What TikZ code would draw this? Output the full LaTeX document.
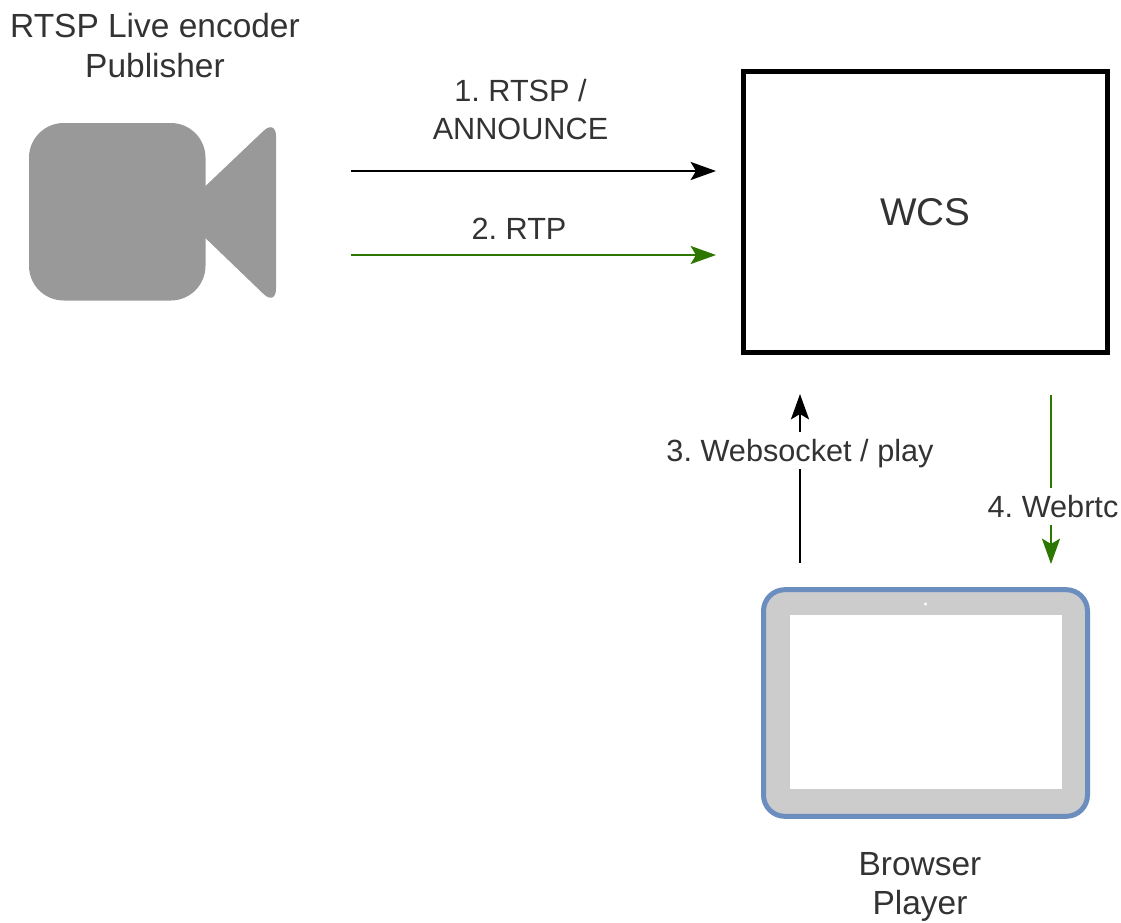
\documentclass[tikz,border=0pt]{standalone}
\usepackage{fontspec}
\setmainfont{Liberation Sans}
\usepackage{xcolor}
\usetikzlibrary{arrows.meta,positioning}
\definecolor{txtgray}{RGB}{51,51,51}
\definecolor{camgray}{RGB}{153,153,153}
\definecolor{padgray}{RGB}{204,204,204}
\definecolor{padblue}{RGB}{108,142,191}
\definecolor{rtpgreen}{RGB}{45,118,0}
\frenchspacing

\begin{document}
\begin{tikzpicture}[x=0.75pt,y=-0.75pt]
    \tikzstyle{lbl}=[align=center,inner sep=0pt,text=txtgray,font=\fontsize{25.1}{30.5}\selectfont] %
    \tikzstyle{msglbl}=[lbl,font=\fontsize{23}{28.5}\selectfont] %
    \tikzstyle{edgelbl}=[msglbl,fill=white,inner ysep=2.875pt,text height=19pt,text depth=3pt] %
    \tikzstyle{server}=[rectangle,draw=black,line width=3.75pt,fill=white,%
    minimum width=273pt,minimum height=210.5pt,text=txtgray,font=\fontsize{29}{34}\selectfont] %
    \tikzstyle{msg}=[line width=2.1pt,-{Stealth[length=19pt,width=13.5pt,inset=4pt]}] %
    \tikzstyle{media}=[msg,rtpgreen] %

    \useasboundingbox (0,0) rectangle (1121,922);

    % camera
    \fill[camgray,rounded corners=26pt] (29,123) rectangle (205.5,300.5);
    \fill[camgray] (195,196) [rounded corners=13pt] -- (276,119) -- (276,306) [sharp corners] -- (195,228) -- cycle;

    \node[server] (WCS) at (925.5,212) {WCS};

    % tablet
    \node[rectangle,rounded corners=16pt,draw=padblue,fill=padgray,line width=3.75pt,%
    minimum width=243pt,minimum height=170pt] (PAD) at (925.5,703) {};
    \node[rectangle,fill=white,inner sep=0pt,minimum width=204pt,minimum height=130.5pt] (SCREEN) at (925.5,702) {};
    \node[circle,fill=white,inner sep=0pt,minimum size=2.6pt] (CAM) at (925.5,604) {};

    \node[lbl] (PUB) at (155,45.5) {RTSP Live encoder\\Publisher};
    \node[lbl,font=\fontsize{25.1}{29.25}\selectfont] (PLAYER) at (920,887) {Browser\\Player};

    \coordinate (RTSP0) at (351,171);
    \coordinate (RTSP1) at (716,171);
    \coordinate (RTP0) at (351,255);
    \coordinate (RTP1) at (716,255);
    \coordinate (WS0) at (800,563);
    \coordinate (WS1) at (800,394);
    \coordinate (WRTC0) at (1051,395);
    \coordinate (WRTC1) at (1051,564);

    \node[msglbl] (RTSPTXT) at (520.5,110) {1. RTSP /\\ANNOUNCE};
    \node[msglbl] (RTPTXT) at (519,229) {2. RTP};

    \draw[msg] (RTSP0) -- (RTSP1);
    \draw[media] (RTP0) -- (RTP1);
    \draw[msg] (WS0) -- node[edgelbl,pos=0.665] (WSTXT) {3. Websocket / play} (WS1);
    \draw[media] (WRTC0) -- node[edgelbl,pos=0.66,xshift=1.5pt] (WRTCTXT) {4. Webrtc} (WRTC1);
\end{tikzpicture}
\end{document}
